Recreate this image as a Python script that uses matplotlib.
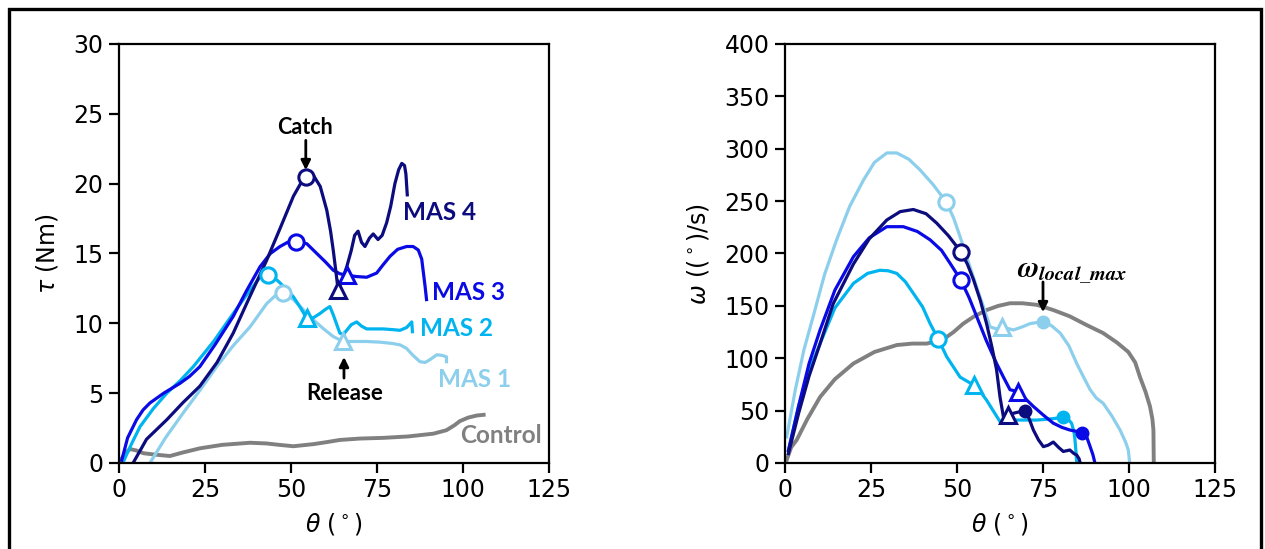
import matplotlib
matplotlib.use("Agg")
import matplotlib.pyplot as plt
from matplotlib.patches import Rectangle

# ---------------- data: left panel (torque vs angle) ----------------
mas4_tq_x = [4.1, 8.0, 13.9, 18.5, 23.5, 28.5, 33.2, 38.0, 42.9, 47.0, 50.7, 53.0, 54.3, 56.5, 58.5, 60.4, 61.5, 62.3, 63.0, 63.7,
             65.0, 66.2, 67.5, 68.5, 69.5, 70.5, 71.5, 72.8, 73.9, 75.3, 76.5, 77.8, 79.0, 80.2, 81.3, 82.2, 83.0, 83.4, 83.8]
mas4_tq_y = [0.0, 1.7, 3.1, 4.3, 5.5, 7.2, 9.3, 11.9, 14.5, 16.9, 19.1, 20.1, 20.5, 20.6, 19.8, 18.1, 16.6, 15.2, 13.8, 12.4,
             13.2, 14.05, 15.2, 16.3, 16.6, 15.8, 15.5, 16.1, 16.4, 16.0, 16.3, 17.2, 18.4, 20.0, 21.0, 21.45, 21.3, 20.7, 19.2]

mas3_tq_x = [0.8, 2.5, 5.1, 7.0, 9.0, 13.0, 17.7, 20.5, 23.5, 28.0, 33.2, 37.0, 41.0, 44.0, 46.8, 49.0, 51.5, 54.6, 57.5,
             60.0, 62.3, 64.2, 66.2, 69.0, 72.0, 74.9, 76.8, 78.8, 81.0, 83.6, 85.5, 87.0, 88.0, 88.5, 89.0, 89.4]
mas3_tq_y = [0.2, 1.8, 3.1, 3.8, 4.3, 5.0, 5.7, 6.2, 6.9, 8.5, 10.5, 12.3, 14.05, 15.0, 15.5, 15.8, 15.85, 15.7, 15.0,
             14.4, 13.8, 13.55, 13.45, 13.35, 13.3, 13.6, 14.2, 14.8, 15.3, 15.5, 15.5, 15.25, 14.6, 13.6, 12.6, 11.7]

mas2_tq_x = [1.1, 3.5, 6.1, 10.0, 13.9, 17.8, 21.6, 27.5, 33.2, 37.0, 41.0, 43.4, 45.0, 46.8, 50.7, 52.8, 54.6, 56.5, 58.4,
             60.0, 61.3, 62.3, 64.2, 65.2, 66.2, 67.5, 69.1, 70.5, 72.0, 74.5, 76.8, 79.5, 81.7, 83.6, 85.1, 85.3]
mas2_tq_y = [0.0, 1.3, 2.6, 3.9, 5.0, 5.9, 6.9, 8.7, 10.7, 12.0, 13.3, 13.45, 13.3, 12.9, 11.9, 11.1, 10.35, 10.4, 10.7,
             11.0, 11.2, 10.6, 9.3, 9.2, 9.5, 9.9, 10.1, 9.8, 9.6, 9.6, 9.6, 9.55, 9.5, 9.7, 10.1, 9.4]

mas1_tq_x = [9.0, 13.5, 18.7, 23.5, 28.4, 33.2, 38.1, 42.9, 45.5, 47.6, 50.7, 53.5, 56.5, 59.5, 62.3, 65.2, 68.5, 72.0,
             76.0, 79.7, 81.8, 83.6, 85.5, 87.5, 89.0, 90.4, 92.4, 94.0, 95.2, 95.2]
mas1_tq_y = [0.0, 1.8, 3.6, 5.2, 6.9, 8.4, 9.75, 11.4, 12.0, 12.2, 11.7, 11.0, 10.25, 9.6, 9.05, 8.7, 8.7, 8.7,
             8.65, 8.55, 8.45, 8.2, 7.7, 7.25, 7.2, 7.4, 7.75, 7.7, 7.6, 7.25]

ctrl_tq_x = [0.5, 1.8, 3.2, 5.0, 7.1, 10.5, 14.8, 18.5, 23.5, 30.0, 38.1, 42.9, 46.5, 50.7, 56.5, 60.5, 64.2, 70.0, 76.8,
             84.0, 91.4, 95.2, 97.5, 99.1, 101.5, 104.0, 106.0]
ctrl_tq_y = [0.2, 0.7, 1.0, 0.9, 0.7, 0.6, 0.5, 0.75, 1.05, 1.3, 1.45, 1.4, 1.3, 1.2, 1.35, 1.5, 1.65, 1.75, 1.8,
             1.9, 2.1, 2.35, 2.7, 3.0, 3.25, 3.4, 3.45]

# catch (circle) and release (triangle) markers, left panel
tq_catch_x = {"MAS 4": 54.3, "MAS 3": 51.5, "MAS 2": 43.4, "MAS 1": 47.6}
tq_catch_y = {"MAS 4": 20.5, "MAS 3": 15.85, "MAS 2": 13.45, "MAS 1": 12.2}
tq_rel_x = {"MAS 4": 63.7, "MAS 3": 66.2, "MAS 2": 54.6, "MAS 1": 65.2}
tq_rel_y = {"MAS 4": 12.4, "MAS 3": 13.45, "MAS 2": 10.35, "MAS 1": 8.7}

# ---------------- data: right panel (angular velocity vs angle) ----------------
mas1_w_x = [0.5, 3.0, 5.5, 8.2, 11.5, 15.0, 18.8, 22.8, 26.0, 29.6, 32.5, 36.0, 39.2, 43.0, 46.8, 49.0, 50.9, 53.3,
            55.7, 57.8, 59.6, 61.5, 63.0, 66.4, 69.0, 71.2, 73.0, 74.9, 77.5, 80.0, 82.5, 84.8, 86.8, 88.7, 90.5,
            92.5, 95.0, 97.4, 99.0, 99.8, 100.2]
mas1_w_y = [25, 70, 108, 140, 180, 213, 245, 270, 287, 296, 296, 290, 280, 266, 249.5, 234, 216, 192,
            168, 148, 130, 128, 130, 127, 130, 133, 134, 135, 131, 124, 112, 95, 82, 70, 62,
            57, 45, 31.5, 20, 12.4, 0]

mas4_w_x = [1.0, 4.0, 7.0, 10.2, 14.0, 19.9, 24.5, 29.6, 33.5, 37.3, 41.0, 44.1, 47.5, 51.1, 53.0, 54.8, 56.8, 58.6,
            60.2, 61.5, 62.5, 63.5, 64.9, 67.0, 69.8, 71.0, 72.2, 73.7, 75.1, 76.5, 78.0, 79.5, 80.9, 82.8, 84.0,
            84.8, 85.5, 85.8]
mas4_w_y = [9, 48, 83, 114, 152, 190, 214, 232, 240, 242, 238, 229, 217, 201.7, 190, 175, 155, 133,
            110, 89, 63, 44, 46, 48, 50, 42, 31.5, 22, 15.6, 17, 20, 15, 11, 12.4, 9,
            7.6, 4, 0]

mas3_w_x = [1.0, 4.0, 7.0, 10.2, 14.5, 19.9, 24.5, 29.6, 34.4, 38.5, 42.2, 45.5, 48.0, 51.1, 53.5, 55.7, 58.5, 61.5,
            63.5, 65.4, 67.8, 70.0, 72.2, 75.0, 78.0, 80.5, 82.8, 85.0, 86.5, 87.8, 88.7, 89.5, 90.1]
mas3_w_y = [12, 55, 95, 127, 165, 197, 215, 225.6, 225.6, 221, 213, 203, 190.6, 174.7, 158, 140, 117, 95,
            82, 70, 68, 61, 54, 46, 38, 34, 31.5, 30, 29, 24, 15.6, 8, 0]

mas2_w_x = [1.0, 4.0, 7.0, 10.2, 14.5, 19.9, 24.0, 27.6, 30.0, 32.5, 35.0, 37.3, 40.0, 42.2, 44.6, 47.0, 50.9, 54.8,
            56.8, 58.6, 60.5, 62.5, 65.4, 69.0, 73.2, 77.0, 80.9, 82.5, 83.3, 84.0, 84.3, 84.6, 84.8]
mas2_w_y = [12, 55, 88, 114, 148, 171.5, 181, 184, 183.5, 181, 173, 162, 149, 133, 118, 101.5, 82, 74.5,
            68, 60, 50, 39.5, 41, 41, 41, 42, 43.6, 41, 38, 30, 22, 10, 0]

ctrl_w_x = [0.5, 1.8, 3.4, 6.5, 10.2, 14.5, 19.9, 26.0, 32.5, 37.0, 41.2, 46.0, 49.0, 51.8, 55.0, 58.6, 62.0, 65.4,
            69.0, 73.2, 78.0, 82.8, 87.5, 92.5, 96.5, 99.8, 101.8, 103.2, 104.8, 106.1, 106.8, 107.1, 107.2]
ctrl_w_y = [3, 15, 22, 42, 63, 80, 95, 106, 112.6, 114, 114, 118, 125, 133, 140, 146, 150, 152.5,
            152.5, 151, 146, 140, 132, 124, 115, 106, 96, 82, 68, 54, 42, 31.5, 0]

# catch (open circle), release (open triangle), local max (filled circle), right panel
w_catch_x = {"MAS 1": 46.8, "MAS 4": 51.1, "MAS 3": 51.1, "MAS 2": 44.6}
w_catch_y = {"MAS 1": 249.5, "MAS 4": 201.7, "MAS 3": 174.7, "MAS 2": 118}
w_rel_x = {"MAS 1": 63.0, "MAS 4": 64.9, "MAS 3": 67.8, "MAS 2": 54.8}
w_rel_y = {"MAS 1": 130, "MAS 4": 46, "MAS 3": 68, "MAS 2": 74.5}
w_lmax_x = {"MAS 1": 74.9, "MAS 4": 69.8, "MAS 3": 86.3, "MAS 2": 80.9}
w_lmax_y = {"MAS 1": 135, "MAS 4": 50, "MAS 3": 29, "MAS 2": 43.6}

colors = {"MAS 4": "#0c0c7e", "MAS 3": "#0a0ae6", "MAS 2": "#00b4f0", "MAS 1": "#8ccfec", "Control": "#808080"}

x_ticks = [0, 25, 50, 75, 100, 125]
tq_ticks = [0, 5, 10, 15, 20, 25, 30]
w_ticks = [0, 50, 100, 150, 200, 250, 300, 350, 400]

# ---------------- figure ----------------
W, H = 1265, 549
fig = plt.figure(figsize=(W / 100, H / 100), dpi=100)
fig.patch.set_facecolor("white")

LW = 2.3
MS = 11
MEW = 2.2
TFS = 17

def style_ax(ax):
    for s in ax.spines.values():
        s.set_linewidth(1.6)
    ax.tick_params(direction="out", length=7, width=1.6, labelsize=TFS, pad=4)
    ax.set_xticks(x_ticks)
    ax.set_xlim(0, 125)

# ---- left ----
ax1 = fig.add_axes([119 / W, 1 - 463 / H, 430 / W, 419 / H])
series_tq = {
    "Control": (ctrl_tq_x, ctrl_tq_y),
    "MAS 1": (mas1_tq_x, mas1_tq_y),
    "MAS 2": (mas2_tq_x, mas2_tq_y),
    "MAS 3": (mas3_tq_x, mas3_tq_y),
    "MAS 4": (mas4_tq_x, mas4_tq_y),
}
for name, (xs, ys) in series_tq.items():
    ax1.plot(xs, ys, color=colors[name], lw=LW if name != "Control" else 2.8,
             solid_joinstyle="round", zorder=2)
for name in ["MAS 1", "MAS 2", "MAS 3", "MAS 4"]:
    ax1.plot(tq_catch_x[name], tq_catch_y[name], "o", ms=MS, mfc="white", mec=colors[name], mew=MEW, zorder=4)
    ax1.plot(tq_rel_x[name], tq_rel_y[name], "^", ms=MS + 1, mfc="white", mec=colors[name], mew=MEW, zorder=4)
ax1.set_ylim(0, 30)
ax1.set_yticks(tq_ticks)
style_ax(ax1)
ax1.set_ylabel(r"$\tau$ (Nm)", fontsize=TFS, labelpad=10)
ax1.set_xlabel(r"$\theta$ ($^\circ$)", fontsize=TFS, labelpad=6)

lblfont = dict(family=["Lato", "DejaVu Sans"], fontweight="bold")
ax1.text(82.5, 17.9, "MAS 4", color=colors["MAS 4"], fontsize=17.5, ha="left", va="center", **lblfont)
ax1.text(91.0, 12.2, "MAS 3", color=colors["MAS 3"], fontsize=17.5, ha="left", va="center", **lblfont)
ax1.text(87.5, 9.6, "MAS 2", color=colors["MAS 2"], fontsize=17.5, ha="left", va="center", **lblfont)
ax1.text(92.7, 6.0, "MAS 1", color=colors["MAS 1"], fontsize=17.5, ha="left", va="center", **lblfont)
ax1.text(99.3, 1.95, "Control", color=colors["Control"], fontsize=17.5, ha="left", va="center", **lblfont)

ax1.text(54.1, 24.05, "Catch", ha="center", va="center", fontsize=15.5, color="black", **lblfont)
ax1.annotate("", xy=(54.3, 20.97), xytext=(54.3, 23.1),
             arrowprops=dict(arrowstyle="-|>", color="black", lw=2, mutation_scale=14, shrinkA=0, shrinkB=0))
ax1.text(65.7, 5.0, "Release", ha="center", va="center", fontsize=16, color="black", **lblfont)
ax1.annotate("", xy=(65.4, 7.59), xytext=(65.4, 6.08),
             arrowprops=dict(arrowstyle="-|>", color="black", lw=2, mutation_scale=14, shrinkA=0, shrinkB=0))

# ---- right ----
ax2 = fig.add_axes([785 / W, 1 - 463 / H, 430 / W, 419 / H])
series_w = {
    "Control": (ctrl_w_x, ctrl_w_y),
    "MAS 1": (mas1_w_x, mas1_w_y),
    "MAS 2": (mas2_w_x, mas2_w_y),
    "MAS 3": (mas3_w_x, mas3_w_y),
    "MAS 4": (mas4_w_x, mas4_w_y),
}
for name, (xs, ys) in series_w.items():
    ax2.plot(xs, ys, color=colors[name], lw=LW if name != "Control" else 2.8,
             solid_joinstyle="round", zorder=2)
for name in ["MAS 1", "MAS 2", "MAS 3", "MAS 4"]:
    ax2.plot(w_catch_x[name], w_catch_y[name], "o", ms=MS, mfc="white", mec=colors[name], mew=MEW, zorder=4)
    ax2.plot(w_rel_x[name], w_rel_y[name], "^", ms=MS + 1, mfc="white", mec=colors[name], mew=MEW, zorder=4)
    ax2.plot(w_lmax_x[name], w_lmax_y[name], "o", ms=MS - 1, mfc=colors[name], mec=colors[name], mew=0, zorder=4)
ax2.set_ylim(0, 400)
ax2.set_yticks(w_ticks)
style_ax(ax2)
ax2.set_ylabel(r"$\omega$ (($^\circ$)/s)", fontsize=TFS, labelpad=10)
ax2.set_xlabel(r"$\theta$ ($^\circ$)", fontsize=TFS, labelpad=6)

ax2.text(83.4, 168, r"$\boldsymbol{\omega}_{\boldsymbol{local\_max}}$", ha="center", va="bottom",
         fontsize=21, color="black", math_fontfamily="stix")
ax2.annotate("", xy=(75.0, 144), xytext=(75.0, 172.8),
             arrowprops=dict(arrowstyle="-|>", color="black", lw=2, mutation_scale=14, shrinkA=0, shrinkB=0))

# figure frame
fig.add_artist(Rectangle((8.5 / W, -0.2), (1260.5 - 8.5) / W, 1.2 - 8.5 / H, transform=fig.transFigure,
                         fill=False, edgecolor="black", lw=2.4, zorder=10))

fig.savefig("out.png", dpi=100, facecolor="white")
